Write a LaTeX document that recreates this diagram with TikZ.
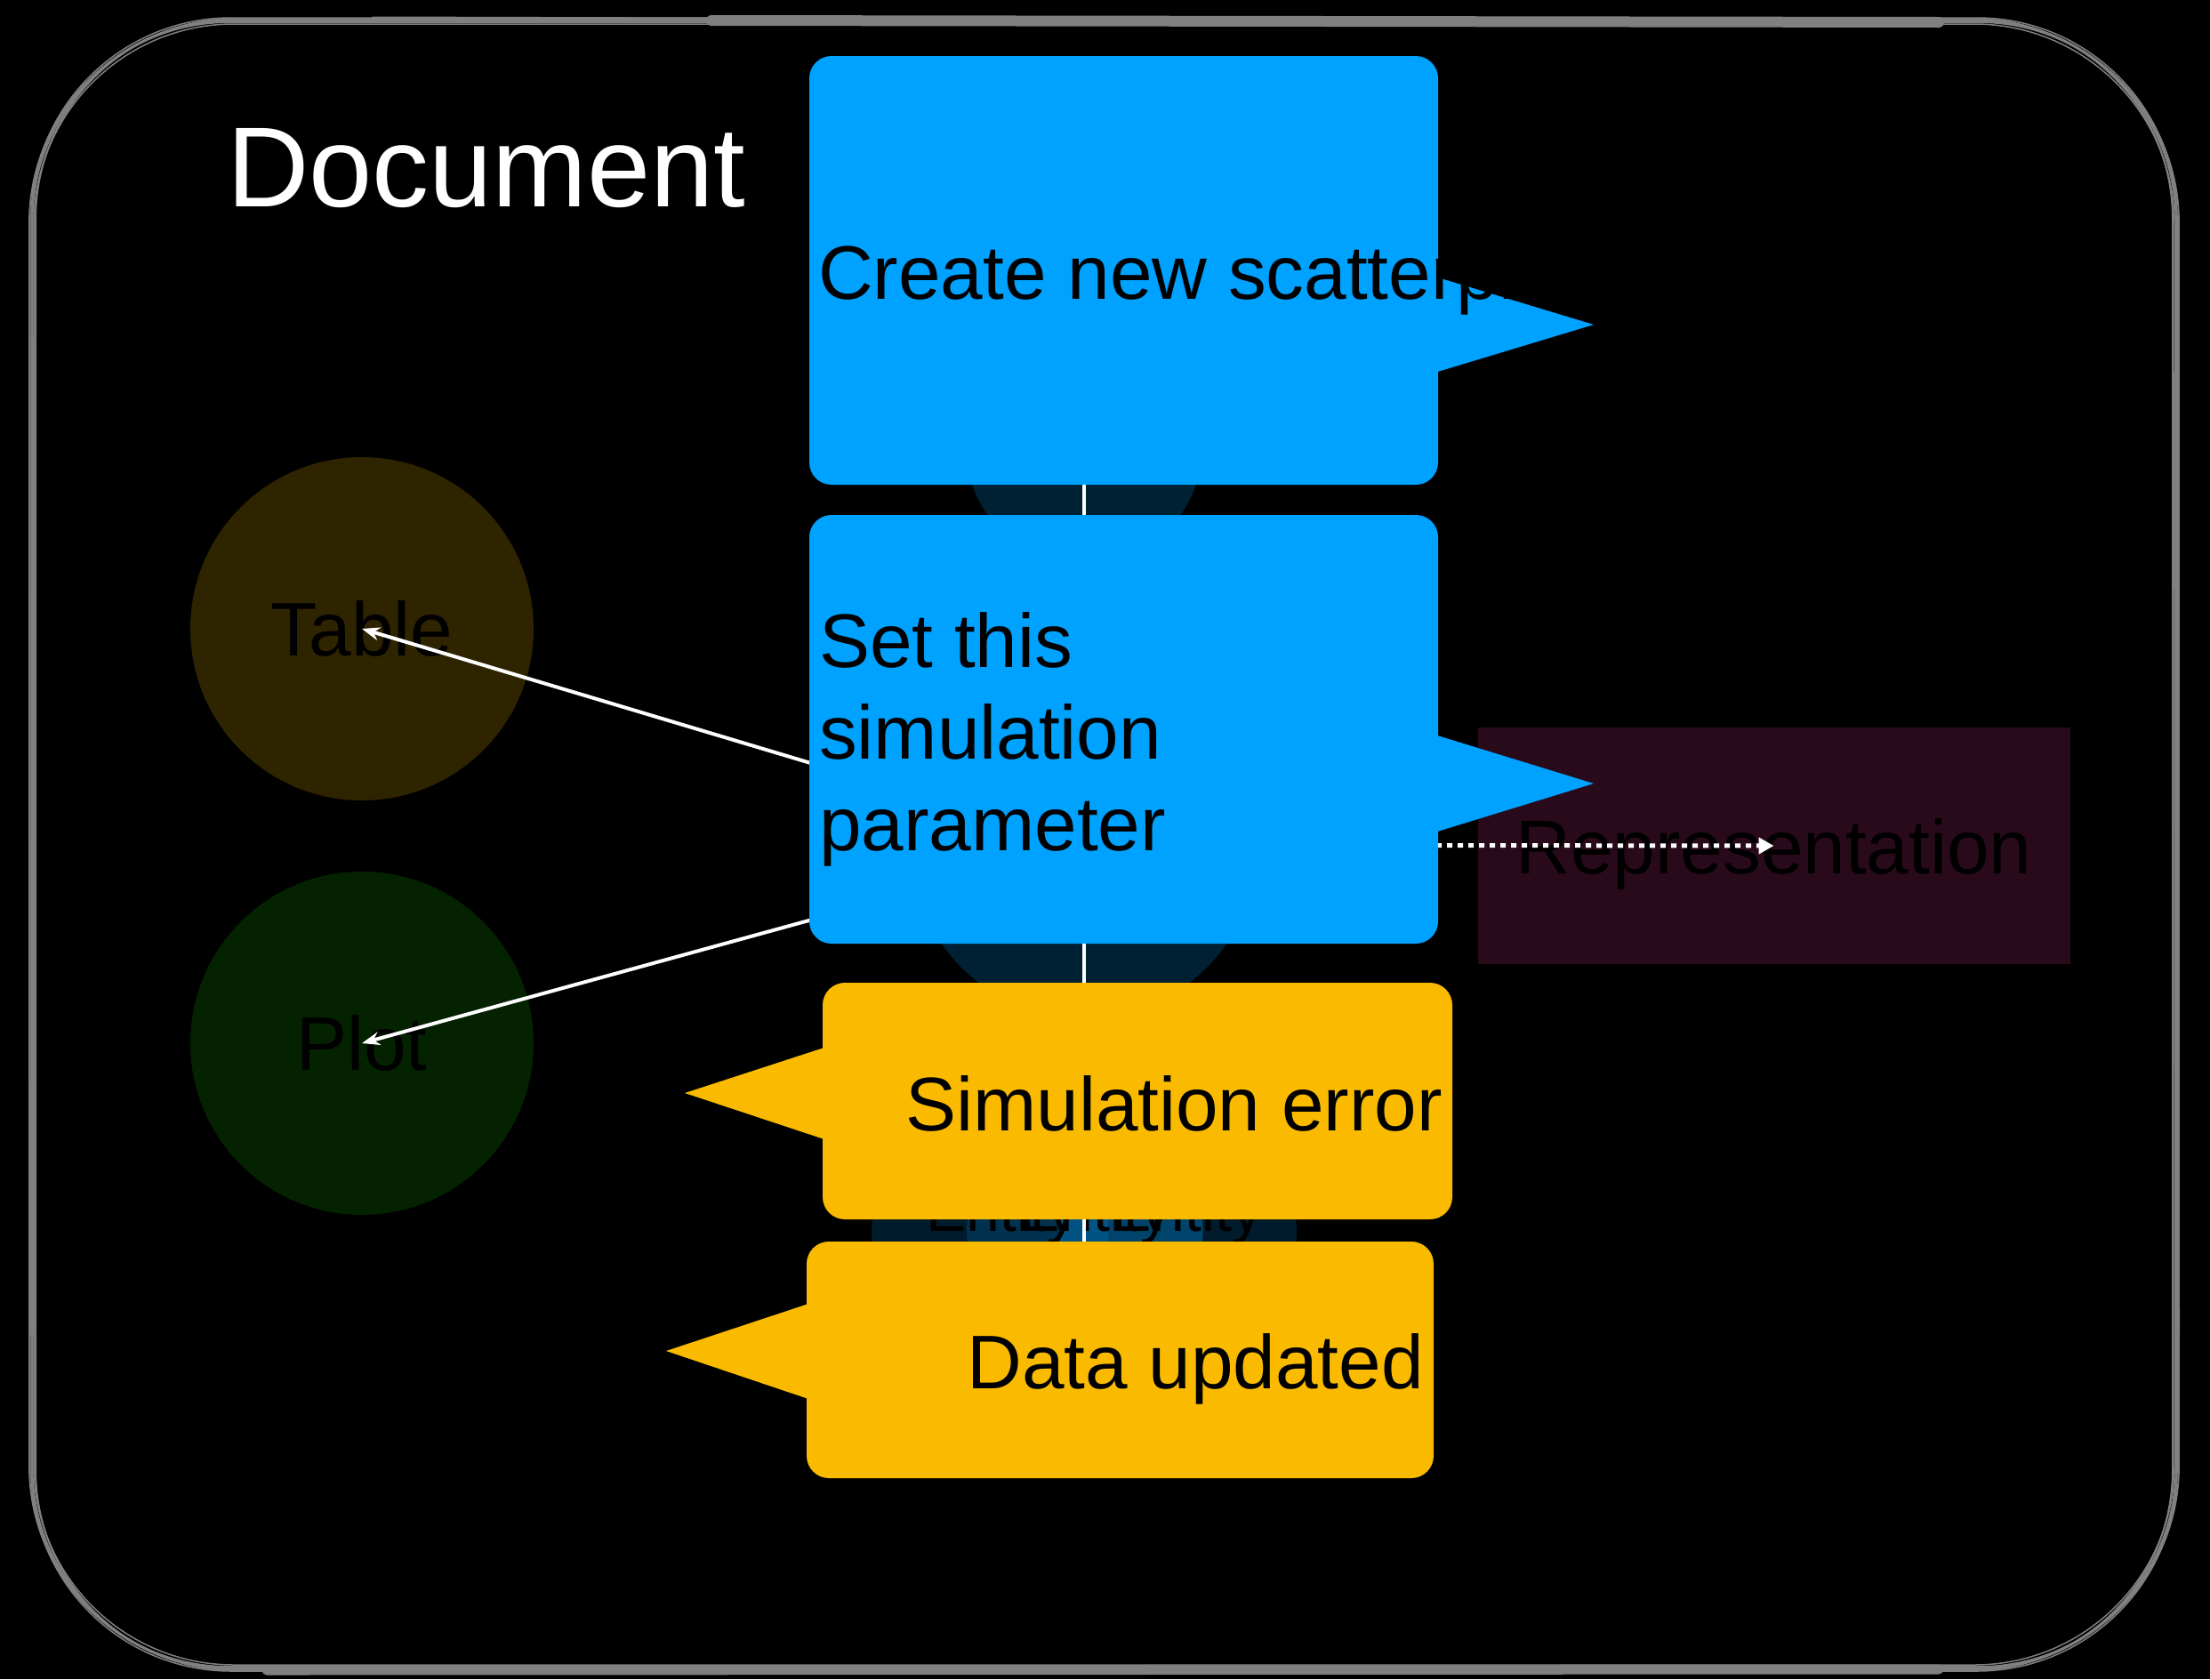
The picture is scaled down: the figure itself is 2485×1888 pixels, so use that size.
\documentclass[tikz,border=0pt]{standalone}
\usepackage{fontspec}
\setmainfont{Liberation Sans}
\usetikzlibrary{arrows.meta,shapes.geometric}

\definecolor{calloutblue}{HTML}{00A2FF}
\definecolor{calloutyellow}{HTML}{F9BA00}
\definecolor{tablefill}{HTML}{2F2400}
\definecolor{plotfill}{HTML}{042200}
\definecolor{reprfill}{HTML}{290A1A}
\definecolor{framegray}{HTML}{808080}

\begin{document}
\begin{tikzpicture}[x=1pt,y=-1pt,
  txt/.style={font=\fontsize{85.5}{103}\selectfont, text=black, inner sep=0pt},
  smalltxt/.style={font=\fontsize{68}{80}\selectfont, text=black, inner sep=0pt},
  entity/.style={ellipse, fill=calloutblue, fill opacity=0.2, draw=none, inner sep=0pt},
  faint/.style={ellipse, fill=calloutblue, fill opacity=0.17, draw=none, inner sep=0pt},
  view/.style={circle, draw=none, inner sep=0pt, minimum size=386pt, txt, text depth=0pt},
  bluecallout/.style={fill=calloutblue, draw=none, rounded corners=25pt, inner sep=0pt},
  yellowcallout/.style={fill=calloutyellow, draw=none, rounded corners=25pt, inner sep=0pt},
  link/.style={draw=white, line width=4pt, -{Stealth[length=20pt,width=15pt]}},
  dotlink/.style={draw=white, line width=5pt, dash pattern=on 6pt off 6pt, -{Triangle[length=17pt,width=18pt]}},
  spine/.style={draw=white, line width=4.5pt}
]
% canvas
\fill[black] (0,0) rectangle (2485,1888);
\useasboundingbox (0,0) rectangle (2485,1888);

% sketchy document frame
\foreach \dx/\dy/\w in {0/0/3, 4/-2/2, -3/2/1.8, 2/4/1.5, -1/-3/1.5}
  \draw[framegray, line width=\w pt, rounded corners=225pt]
    (36+\dx,23+\dy) rectangle (2447-\dx,1876-\dy);
\draw[framegray, line width=5pt, line cap=round] (420,21) -- (800,22);
\draw[framegray, line width=12pt, line cap=round] (800,23) -- (2180,25);
\draw[framegray, line width=11pt, line cap=round] (300,1878) -- (2180,1877);
\draw[framegray, line width=6pt, line cap=round] (2447,420) -- (2448,1500);
\draw[framegray, line width=4pt, line cap=round] (37,380) -- (36,1500);

% title
\node[font=\fontsize{128}{150}\selectfont, text=white, inner sep=0pt, anchor=base west]
  (title) at (255,232) {Document};

% views
\node[view, fill=tablefill] (table) at (407,707) {Table};
\node[view, fill=plotfill] (plot) at (407,1173) {Plot};
\node[fill=reprfill, draw=none, minimum width=666pt, minimum height=266pt, inner sep=0pt]
  (repr) at (1994.5,951) {};
\node[txt, anchor=base] (reprtxt) at (repr.center |- 0,982) {Representation};

% entity column
\node[entity, minimum width=266pt, minimum height=266pt] (e1) at (1219,502) {};
\node[entity, minimum width=390pt, minimum height=390pt] (e2) at (1219,950) {};
\node[faint, minimum width=478pt, minimum height=260pt] (e3) at (1219,1384) {};
\node[faint, minimum width=266pt, minimum height=200pt] (e3b) at (1220,1384) {};
\node[faint, minimum width=161pt, minimum height=150pt] (e3c) at (1272,1384) {};
\node[faint, minimum width=55pt, minimum height=120pt] (e3d) at (1219,1384) {};
\node[smalltxt, anchor=base west] (ent1) at (1041,1384) {Entity};
\node[smalltxt, anchor=base west] (ent2) at (1146,1384) {Entity};
\node[smalltxt, anchor=base west] (ent3) at (1249,1384) {Entity};
\coordinate (e4) at (1219,1530);

% connectors
\draw[spine] (e1.center) -- (e2.center) -- (e4);
\draw[link] (e2.center) -- (table.center);
\draw[link] (e2.center) -- (plot.center);
\draw[dotlink] (e2.center) -- (repr.center);

% blue callouts
\node[bluecallout, minimum width=707pt, minimum height=482pt] (create) at (1263.5,304) {};
\fill[calloutblue] (1600,307) -- (1792,365) -- (1600,423) -- cycle;
\node[txt, anchor=base west] (createtxt) at (920,336) {Create new scatterplot};

\node[bluecallout, minimum width=707pt, minimum height=482pt] (setparam) at (1263.5,820) {};
\fill[calloutblue] (1600,822) -- (1792,881) -- (1600,940) -- cycle;
\node[txt, align=left, anchor=north west] (setparamtxt) at (921,688)
  {Set this\\simulation\\parameter};

% yellow callouts
\node[yellowcallout, minimum width=708pt, minimum height=266pt] (simerr) at (1279,1238) {};
\fill[calloutyellow] (945,1172) -- (770,1229) -- (945,1287) -- cycle;
\node[txt, anchor=base east] (simerrtxt) at (1622,1271) {Simulation error};

\node[yellowcallout, minimum width=705pt, minimum height=266pt] (dataupd) at (1259.5,1529) {};
\fill[calloutyellow] (927,1460) -- (749,1519) -- (927,1579) -- cycle;
\node[txt, anchor=base east] (dataupdtxt) at (1601,1561) {Data updated};
\end{tikzpicture}
\end{document}
